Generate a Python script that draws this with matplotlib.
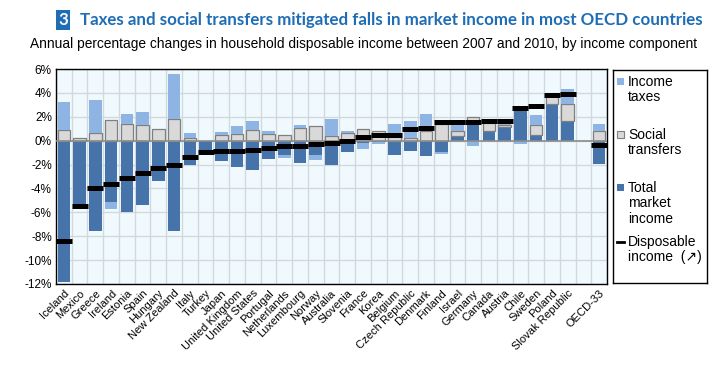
import numpy as np
import matplotlib
matplotlib.use("Agg")
import matplotlib.pyplot as plt
from matplotlib.patches import Rectangle

# Data (annual % change 2007-2010)
countries = ["Iceland", "Mexico", "Greece", "Ireland", "Estonia", "Spain", "Hungary",
             "New Zealand", "Italy", "Turkey", "Japan", "United Kingdom", "United States",
             "Portugal", "Netherlands", "Luxembourg", "Norway", "Australia", "Slovenia",
             "France", "Korea", "Belgium", "Czech Republic", "Denmark", "Finland", "Israel",
             "Germany", "Canada", "Austria", "Chile", "Sweden", "Poland", "Slovak Republic",
             "", "OECD-33"]
market = [-11.85, -5.6, -7.6, -5.16, -5.94, -5.41, -3.4, -7.6, -2.06, -1.1, -1.73, -2.23, -2.48,
          -1.56, -1.17, -1.9, -1.17, -2.06, -0.95, -0.2, -0.1, -1.17, -0.89, -1.25, -0.98, 0.36,
          1.48, 0.8, 1.14, 2.65, 0.5, 3.1, 1.62, np.nan, -1.92]
transfers = [0.86, 0.22, 0.61, 1.73, 1.37, 1.28, 0.98, 1.84, 0.2, 0.0, 0.47, 0.53, 0.86,
             0.53, 0.47, 1.09, 1.23, 0.42, 0.61, 0.98, 0.81, 0.3, 0.2, 0.78, 1.37, 0.48,
             0.5, 0.67, 0.17, 0.2, 0.78, 0.6, 1.45, np.nan, 0.78]
taxes = [2.34, 0.0, 2.82, -0.6, 0.89, 1.15, 0.0, 3.76, 0.47, 0.0, 0.28, 0.73, 0.81,
         0.31, -0.31, 0.25, -0.48, 1.42, 0.23, -0.53, -0.2, 1.06, 1.47, 1.48, -0.11, 0.5,
         -0.47, 0.12, 0.3, -0.28, 0.9, 0.0, 1.28, np.nan, 0.64]
disposable = [-8.4, -5.45, -4.0, -3.63, -3.15, -2.7, -2.25, -2.0, -1.4, -0.95, -0.89, -0.84, -0.81,
              -0.59, -0.47, -0.45, -0.28, -0.22, -0.06, 0.28, 0.45, 0.45, 0.98, 1.1, 1.53, 1.56,
              1.59, 1.62, 1.68, 2.7, 2.9, 3.86, 3.92, np.nan, -0.4]

dark_blue = "#4573AA"
light_blue = "#8EB4E3"
grey = "#D9D9D9"
title_blue = "#1F6DB5"

plt.rcParams["font.family"] = ["Liberation Sans", "DejaVu Sans"]

fig = plt.figure(figsize=(7.13, 3.69), dpi=100)
ax = fig.add_axes([56 / 713, 1 - 284 / 369, 551 / 713, 215 / 369])
ax.set_facecolor("#F0FAFE")

x = np.arange(len(countries))
pos_base = np.zeros(len(x))
neg_base = np.zeros(len(x))
components = [(market, dark_blue, "none"), (transfers, grey, "#7F7F7F"), (taxes, light_blue, "none")]
for vals, col, edge in components:
    v = np.nan_to_num(np.array(vals, dtype=float))
    bottom = np.where(v >= 0, pos_base, neg_base)
    keep = v != 0
    ax.bar(x[keep], v[keep], 0.8, bottom=bottom[keep], color=col, edgecolor=edge,
           linewidth=0.9, zorder=3)
    pos_base = pos_base + np.where(v > 0, v, 0)
    neg_base = neg_base + np.where(v < 0, v, 0)

ax.plot(x, disposable, ls="none", marker="_", markersize=11.5, mew=3.6, color="black", zorder=5)

ax.axhline(0, color="#8C8C8C", lw=1.2, zorder=4)
ax.set_xlim(-0.5, len(x) - 0.5)
ax.set_ylim(-12, 6)
ax.set_yticks(np.arange(-12, 7, 2))
ax.set_yticklabels([f"{v}%" for v in range(-12, 7, 2)], fontsize=8.5)
ax.set_xticks(x)
ax.set_xticklabels(countries, rotation=45, ha="right", rotation_mode="anchor", fontsize=8)
ax.set_xticks(np.arange(-0.5, len(x), 1), minor=True)
ax.tick_params(axis="both", which="both", length=0, pad=3)
ax.grid(axis="y", which="major", color="#D3D8DB", lw=1.0, zorder=0)
ax.grid(axis="x", which="minor", color="#D3D8DB", lw=1.0, zorder=0)
ax.grid(axis="x", which="major", visible=False)
for s in ax.spines.values():
    s.set_color("black")
    s.set_linewidth(1.0)

# title
fig.text(58 / 713, 1 - 20 / 369, "3", color="white", fontsize=12.2, fontweight="bold",
         family="Lato", va="center", ha="left",
         bbox=dict(boxstyle="square,pad=0.12", fc=title_blue, ec="none"))
fig.text(703 / 713, 1 - 20 / 369, "Taxes and social transfers mitigated falls in market income in most OECD countries",
         color=title_blue, fontsize=12.2, fontweight="bold", family="Lato", va="center", ha="right")
fig.text(697 / 713, 1 - 44 / 369,
         "Annual percentage changes in household disposable income between 2007 and 2010, by income component",
         fontsize=9.9, va="center", ha="right")

# legend box, drawn in pixel-like coordinates
lg = fig.add_axes([613 / 713, 1 - 283 / 369, 94 / 713, 213 / 369])
lg.set_xlim(613, 707)
lg.set_ylim(283, 70)
lg.set_xticks([])
lg.set_yticks([])
for s in lg.spines.values():
    s.set_color("black")
    s.set_linewidth(1.0)
step = 15.5
entries = [(light_blue, "none", 82, ["Income", "taxes"]),
           (grey, "#7F7F7F", 135, ["Social", "transfers"]),
           (dark_blue, "none", 188, ["Total", "market", "income"])]
for col, edge, y, lines in entries:
    lg.add_patch(Rectangle((617, y - 3.5), 7, 7, fc=col, ec=edge, lw=0.8))
    for k, line in enumerate(lines):
        lg.text(628, y + k * step, line, fontsize=10, va="center", ha="left")
lg.plot([617, 624], [242, 242], color="black", lw=2)
lg.text(628, 242, "Disposable", fontsize=10, va="center", ha="left")
lg.text(628, 242 + step, "income  (\u2197)", fontsize=10, va="center", ha="left")

fig.savefig("out.png", dpi=100)
